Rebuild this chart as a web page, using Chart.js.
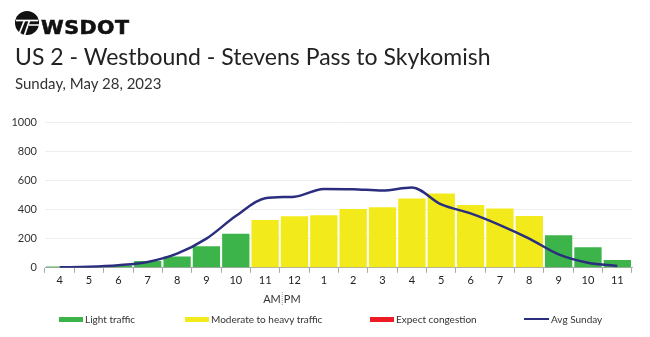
<!DOCTYPE html>
<html>
<head>
<meta charset="utf-8">
<script src="https://cdn.jsdelivr.net/npm/chart.js@4"></script>
<style>
  body { margin: 0; width: 650px; height: 337px; background: #fff; font-family: Lato, "Open Sans", sans-serif; overflow: hidden; position: relative; }
  #chartWrap { position: absolute; left: 0; top: 0; width: 650px; height: 337px; }
  .logoMark { position: absolute; left: 15px; top: 11px; }
  .logoText { position: absolute; left: 41px; top: 18px; font-family: "DejaVu Sans", sans-serif; font-weight: bold; font-size: 19px; line-height: 19px;
              color: #111; -webkit-text-stroke: 0.6px #111; letter-spacing: 0.5px; transform: scaleX(1.08); transform-origin: left; }
  .title { position: absolute; left: 15px; top: 42px; font-size: 23px; color: #222; }
  .subtitle { position: absolute; left: 15px; top: 74px; font-size: 15px; color: #333; }
  .legend { position: absolute; top: 313px; left: 0; font-size: 10px; color: #333; }
  .legend div { position: absolute; white-space: nowrap; display: flex; align-items: center; }
  .legend i { display: inline-block; width: 24px; height: 5px; margin-right: 2px; }
  .legend i.line { width: 25px; height: 2px; }
</style>
</head>
<body>
<div id="chartWrap"><canvas id="trafficChart"></canvas></div>

<svg class="logoMark" width="24" height="24" viewBox="0 0 24 24">
  <circle cx="12" cy="12" r="12" fill="#111"/>
  <path d="M1 9.5 H23" stroke="#fff" stroke-width="1.7"/>
  <path d="M9.5 9.5 L4.5 22" stroke="#fff" stroke-width="1.7"/>
  <path d="M14.5 9.5 L9.5 24" stroke="#fff" stroke-width="1.7"/>
  <path d="M14 14 H24" stroke="#fff" stroke-width="1.5"/>
</svg>
<div class="logoText">WSDOT</div>
<div class="title">US 2 - Westbound - Stevens Pass to Skykomish</div>
<div class="subtitle">Sunday, May 28, 2023</div>

<div class="legend">
  <div style="left:59px"><i style="background:#3cb44a"></i>Light traffic</div>
  <div style="left:185px"><i style="background:#f3ea1c"></i>Moderate to heavy traffic</div>
  <div style="left:370px"><i style="background:#ed1c24"></i>Expect congestion</div>
  <div style="left:524px"><i class="line" style="background:#2b2d7e"></i>Avg Sunday</div>
</div>

<script>
// ==========================================
// =       DATA                             =
// ==========================================
const hours = ["4", "5", "6", "7", "8", "9", "10", "11", "12", "1", "2", "3", "4", "5", "6", "7", "8", "9", "10", "11"];
const volumes = [9, 5, 15, 46, 78, 147, 233, 327, 353, 360, 403, 415, 475, 509, 431, 406, 355, 224, 141, 53];
const avgSunday = [3, 7, 18, 40, 97, 200, 355, 477, 488, 541, 539, 530, 551, 435, 373, 293, 200, 92, 35, 12];
// traffic level of each hour: L = light, M = moderate to heavy, C = congestion
const levels = ["L", "L", "L", "L", "L", "L", "L", "M", "M", "M", "M", "M", "M", "M", "M", "M", "M", "L", "L", "L"];
const yTicks = [0, 200, 400, 600, 800, 1000];

const levelColors = { L: "#3cb44a", M: "#f3ea1c", C: "#ed1c24" };

// AM | PM marker under the axis, between 11 and 12
const amPmPlugin = {
  id: "amPm",
  afterDraw(chart) {
    const x = chart.scales.x;
    const pos = (x.getPixelForValue(7) + x.getPixelForValue(8)) / 2 + 2;
    const ctx = chart.ctx;
    ctx.save();
    ctx.font = "11px Lato";
    ctx.fillStyle = "#333";
    ctx.textBaseline = "middle";
    ctx.textAlign = "right";
    ctx.fillText("AM", pos - 1, 299);
    ctx.textAlign = "left";
    ctx.fillText("PM", pos + 2, 299);
    ctx.strokeStyle = "#999";
    ctx.setLineDash([1, 1]);
    ctx.beginPath();
    ctx.moveTo(pos + 0.5, 292);
    ctx.lineTo(pos + 0.5, 306);
    ctx.stroke();
    ctx.restore();
  },
};

new Chart(document.getElementById("trafficChart"), {
  data: {
    labels: hours,
    datasets: [
      {
        type: "line",
        label: "Avg Sunday",
        data: avgSunday,
        borderColor: "#2b2d7e",
        borderWidth: 2.5,
        pointRadius: 0,
        tension: 0.4,
        cubicInterpolationMode: "monotone",
        fill: false,
      },
      {
        type: "bar",
        label: "Volume",
        data: volumes,
        backgroundColor: levels.map((l) => levelColors[l]),
        barPercentage: 0.93,
        categoryPercentage: 1,
      },
    ],
  },
  options: {
    responsive: true,
    maintainAspectRatio: false,
    animation: false,
    layout: { padding: { top: 122, right: 18, bottom: 49, left: 0 } },
    plugins: { legend: { display: false }, tooltip: { enabled: false } },
    scales: {
      x: {
        grid: { drawOnChartArea: false, drawTicks: true, tickLength: 5, color: "#aaa" },
        border: { color: "#aaa" },
        ticks: { color: "#222", font: { family: "Lato", size: 11 }, padding: 1, maxRotation: 0 },
      },
      y: {
        min: 0,
        max: 1000,
        afterBuildTicks: (scale) => { scale.ticks = yTicks.map((v) => ({ value: v })); },
        afterFit: (scale) => { scale.width = 45; },
        grid: { color: "#eeeeee", drawTicks: false },
        border: { display: false },
        ticks: { color: "#333", font: { family: "Lato", size: 11 }, padding: 8, callback: (v) => String(v) },
      },
    },
  },
  plugins: [amPmPlugin],
});
</script>
</body>
</html>
